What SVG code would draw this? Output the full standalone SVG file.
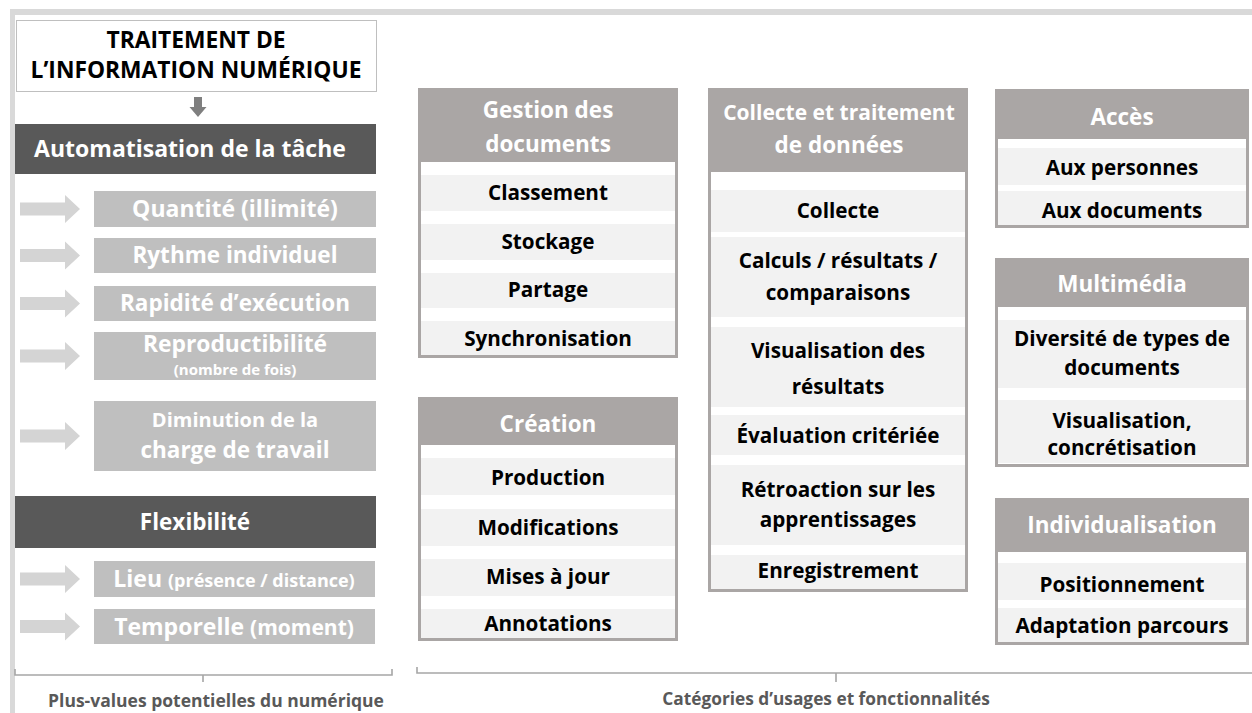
<svg xmlns="http://www.w3.org/2000/svg" width="1252" height="713" viewBox="0 0 1252 713">
<style>
text{font-family:"Open Sans","Noto Sans","Liberation Sans",sans-serif;font-weight:bold;text-anchor:middle}
.frame{fill:#d9d9d9}
.dark{fill:#595959}
.light{fill:#bfbfbf}
.wt{fill:#ffffff}
.arrow{fill:#d4d4d4}
.card{fill:#ffffff;stroke:#aaa6a5;stroke-width:3}
.hdr{fill:#aaa6a5}
.band{fill:#f2f2f2}
.row{fill:#000000;font-size:20.7px}
.h{fill:#ffffff;font-size:22.5px}
.brk{fill:none;stroke:#a6a6a6;stroke-width:1.6}
.lbl{fill:#595959}
</style>
<defs>
<path id="arr" class="arrow" d="M20,-6.5 H65 V-14 L80,0 L65,14 V6.5 H20 Z"/>
</defs>
<g id="frame">
<rect class="frame" x="10" y="9" width="1242" height="6"/>
<rect class="frame" x="10" y="9" width="5" height="704"/>
</g>
<g id="title">
<rect x="16.5" y="20.5" width="360" height="71" fill="#ffffff" stroke="#bfbfbf" stroke-width="1"/>
<text x="196" y="48" font-size="22.8" fill="#000">TRAITEMENT DE</text>
<text x="196" y="78" font-size="22.8" fill="#000">L’INFORMATION NUMÉRIQUE</text>
</g>
<g id="connectors">
<path d="M194,97 H202 V107 H206.5 L198,117 L189.5,107 H194 Z" fill="#7f7f7f"/>
<use href="#arr" transform="translate(0,209)"/>
<use href="#arr" transform="translate(0,255.5)"/>
<use href="#arr" transform="translate(0,303.5)"/>
<use href="#arr" transform="translate(0,356)"/>
<use href="#arr" transform="translate(0,436)"/>
<use href="#arr" transform="translate(0,579)"/>
<use href="#arr" transform="translate(0,626.5)"/>
</g>
<g id="automatisation">
<rect class="dark" x="15" y="124" width="361" height="50"/>
<text class="wt" x="190" y="157" font-size="23">Automatisation de la tâche</text>
</g>
<g id="quantite">
<rect class="light" x="94" y="191" width="282" height="36"/>
<text class="wt" x="235" y="217" font-size="23">Quantité (illimité)</text>
</g>
<g id="rythme">
<rect class="light" x="94" y="238" width="282" height="35"/>
<text class="wt" x="235" y="263" font-size="22.5">Rythme individuel</text>
</g>
<g id="rapidite">
<rect class="light" x="94" y="286" width="282" height="35"/>
<text class="wt" x="235" y="311" font-size="22.5">Rapidité d’exécution</text>
</g>
<g id="reproductibilite">
<rect class="light" x="94" y="332" width="282" height="48"/>
<text class="wt" x="235" y="352" font-size="22.8">Reproductibilité</text>
<text class="wt" x="235" y="375" font-size="15">(nombre de fois)</text>
</g>
<g id="diminution">
<rect class="light" x="94" y="401" width="282" height="70"/>
<text class="wt" x="235" y="427" font-size="20">Diminution de la</text>
<text class="wt" x="235" y="458" font-size="22.5">charge de travail</text>
</g>
<g id="flexibilite">
<rect class="dark" x="15" y="496" width="361" height="52"/>
<text class="wt" x="195" y="530" font-size="22.5">Flexibilité</text>
</g>
<g id="lieu">
<rect class="light" x="94" y="561" width="281" height="36"/>
<text class="wt" x="234" y="587" font-size="23">Lieu <tspan font-size="18">(présence / distance)</tspan></text>
</g>
<g id="temporelle">
<rect class="light" x="94" y="609" width="281" height="35"/>
<text class="wt" x="234" y="635" font-size="23">Temporelle <tspan font-size="21">(moment)</tspan></text>
</g>

<g id="gestion">
<rect class="card" x="419.5" y="89.5" width="257" height="267"/>
<rect class="hdr" x="418" y="88" width="260" height="74"/>
<text class="h" x="548" y="118">Gestion des</text>
<text class="h" x="548" y="152">documents</text>
<rect class="band" x="421" y="175" width="254" height="36"/>
<rect class="band" x="421" y="224" width="254" height="36"/>
<rect class="band" x="421" y="273" width="254" height="35"/>
<rect class="band" x="421" y="321" width="254" height="34"/>
<text class="row" x="548" y="200">Classement</text>
<text class="row" x="548" y="249">Stockage</text>
<text class="row" x="548" y="297">Partage</text>
<text class="row" x="548" y="346">Synchronisation</text>
</g>
<g id="creation">
<rect class="card" x="419.5" y="398.5" width="257" height="241"/>
<rect class="hdr" x="418" y="397" width="260" height="48"/>
<text class="h" x="548" y="432">Création</text>
<rect class="band" x="421" y="458" width="254" height="37"/>
<rect class="band" x="421" y="509" width="254" height="37"/>
<rect class="band" x="421" y="559" width="254" height="37"/>
<rect class="band" x="421" y="609" width="254" height="29"/>
<text class="row" x="548" y="485">Production</text>
<text class="row" x="548" y="535">Modifications</text>
<text class="row" x="548" y="584">Mises à jour</text>
<text class="row" x="548" y="631">Annotations</text>
</g>
<g id="collecte">
<rect class="card" x="709.5" y="89.5" width="257" height="501"/>
<rect class="hdr" x="708" y="88" width="260" height="84"/>
<text class="h" x="839" y="120" style="font-size:21px">Collecte et traitement</text>
<text class="h" x="839" y="153">de données</text>
<rect class="band" x="711" y="190" width="254" height="42"/>
<rect class="band" x="711" y="237" width="254" height="80"/>
<rect class="band" x="711" y="327" width="254" height="80"/>
<rect class="band" x="711" y="415" width="254" height="40"/>
<rect class="band" x="711" y="465" width="254" height="80"/>
<rect class="band" x="711" y="555" width="254" height="34"/>
<text class="row" x="838" y="218">Collecte</text>
<text class="row" x="838" y="268">Calculs / résultats /</text>
<text class="row" x="838" y="300">comparaisons</text>
<text class="row" x="838" y="358">Visualisation des</text>
<text class="row" x="838" y="394">résultats</text>
<text class="row" x="838" y="443">Évaluation critériée</text>
<text class="row" x="838" y="497">Rétroaction sur les</text>
<text class="row" x="838" y="527">apprentissages</text>
<text class="row" x="838" y="578">Enregistrement</text>
</g>
<g id="acces">
<rect class="card" x="996.5" y="90.5" width="251" height="136"/>
<rect class="hdr" x="995" y="89" width="254" height="50"/>
<text class="h" x="1122" y="125">Accès</text>
<rect class="band" x="998" y="148" width="248" height="37"/>
<rect class="band" x="998" y="191" width="248" height="34"/>
<text class="row" x="1122" y="175">Aux personnes</text>
<text class="row" x="1122" y="218">Aux documents</text>
</g>
<g id="multimedia">
<rect class="card" x="996.5" y="259.5" width="251" height="206"/>
<rect class="hdr" x="995" y="258" width="254" height="49"/>
<text class="h" x="1122" y="292">Multimédia</text>
<rect class="band" x="998" y="320" width="248" height="68"/>
<rect class="band" x="998" y="400" width="248" height="63"/>
<text class="row" x="1122" y="346">Diversité de types de</text>
<text class="row" x="1122" y="375">documents</text>
<text class="row" x="1122" y="428">Visualisation,</text>
<text class="row" x="1122" y="455">concrétisation</text>
</g>
<g id="individualisation">
<rect class="card" x="996.5" y="499.5" width="251" height="144"/>
<rect class="hdr" x="995" y="498" width="254" height="54"/>
<text class="h" x="1122" y="533">Individualisation</text>
<rect class="band" x="998" y="563" width="248" height="37"/>
<rect class="band" x="998" y="608" width="248" height="34"/>
<text class="row" x="1122" y="592">Positionnement</text>
<text class="row" x="1122" y="633">Adaptation parcours</text>
</g>
<g id="brackets">
<path class="brk" d="M15,669 V675 H392 V669 M203,675 V682"/>
<path class="brk" d="M417,667 V673 H1252 M836,673 V682"/>
<text class="lbl" x="216" y="707" font-size="17.5">Plus-values potentielles du numérique</text>
<text class="lbl" x="826" y="705" font-size="17.3">Catégories d’usages et fonctionnalités</text>
</g>
</svg>
